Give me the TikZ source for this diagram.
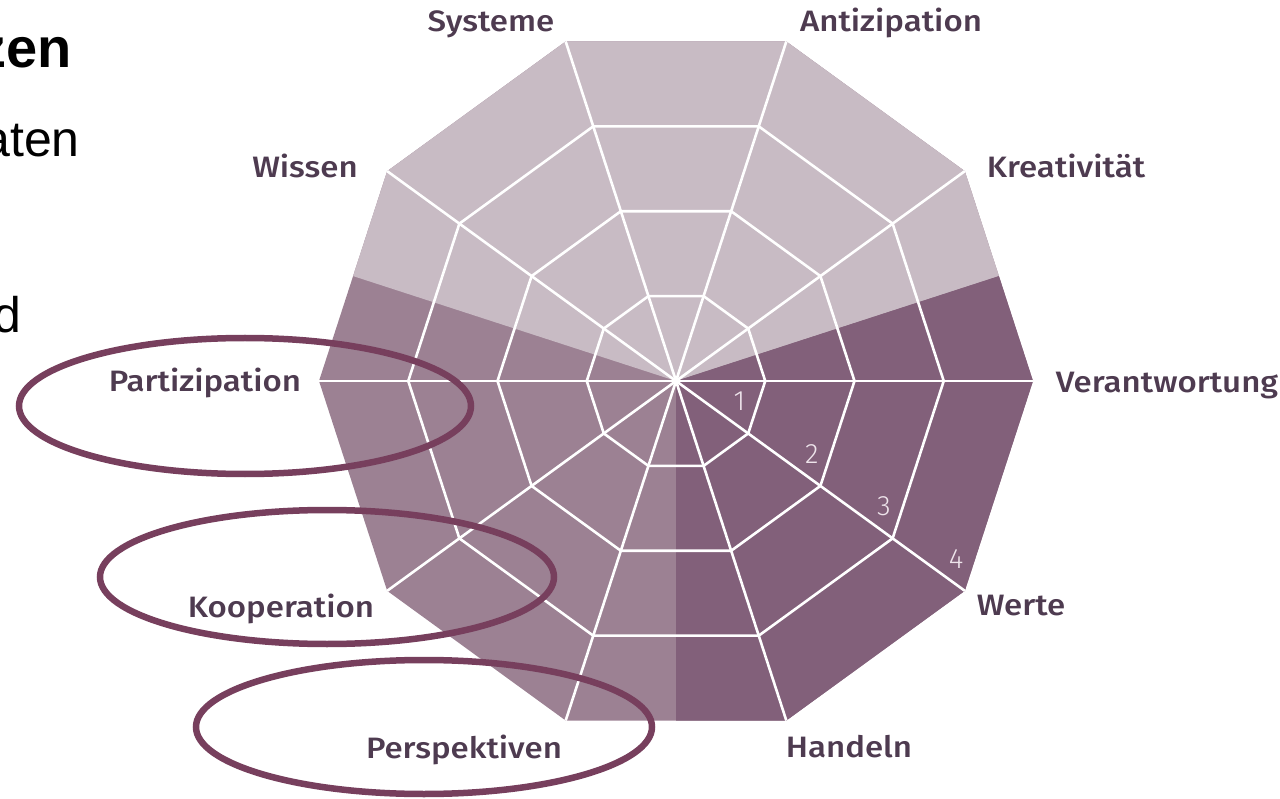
\documentclass[tikz,border=0pt]{standalone}
\usepackage{fontspec}
\setmainfont{Liberation Sans}
\newfontfamily\chartfont{Fira Sans Medium}[FakeStretch=1.12]
\newfontfamily\numfont{Fira Sans Light}
\usetikzlibrary{calc}

\definecolor{lightpart}{HTML}{C8BBC4}
\definecolor{midpart}{HTML}{9C8193}
\definecolor{darkpart}{HTML}{82607A}
\definecolor{labelcol}{HTML}{4E3B50}
\definecolor{loopcol}{HTML}{773F5D}
\definecolor{numcol}{HTML}{EEE4EB}

\begin{document}
\begin{tikzpicture}[x=1pt,y=-1pt,
    dim/.style={font=\chartfont\fontsize{29.5}{29.5}\selectfont,text=labelcol,inner sep=0pt,anchor=base},
    num/.style={font=\numfont\fontsize{28}{28}\selectfont,text=numcol,inner sep=0pt},
    slide/.style={font=\fontsize{50}{50}\selectfont,anchor=base east,inner sep=0pt},
    hilite/.style={draw=loopcol,line width=6.5pt}]

    \def\R{357}	 %radius of outer ring
    \def\m{4}	 %number of rings
    \def\rw{2.6} %width of web lines

    \useasboundingbox (0,0) rectangle (1280,799);
    \clip (0,0) rectangle (1280,799);

    %SLIDE TEXT (cut off at the left)
    \node[slide,font=\bfseries\fontsize{56}{56}\selectfont] (head) at (72,68) {zen};
    \node[slide] (line1) at (80,157) {aten};
    \node[slide] (line2) at (22,333) {d};

    %WEB
    \begin{scope}[shift={(676,381)},yscale=-1]
        \fill[midpart] (0:\R) \foreach \a in {36,72,...,324}{ -- (\a:\R)} -- cycle;
        \fill[lightpart] (0,0) -- (18:{\R*cos(18)}) -- (36:\R) -- (72:\R) -- (108:\R) -- (144:\R) -- (162:{\R*cos(18)}) -- cycle;
        \fill[darkpart] (0,0) -- (270:{\R*cos(18)}) -- (288:\R) -- (324:\R) -- (360:\R) -- (378:{\R*cos(18)}) -- cycle;
        %rings 1..3 (ring 4 is the border)
        \foreach \k in {1,...,3}{
            \draw[white,line width=\rw,line join=miter] (0:{\k*\R/\m}) \foreach \a in {36,72,...,324}{ -- (\a:{\k*\R/\m})} -- cycle;
        } %end of ring loop
        \foreach \a in {0,36,...,324}{
            \draw[white,line width=\rw] (0,0) -- (\a:\R);
        } %end of spoke loop
        %scale along the Werte spoke
        \foreach \k in {1,...,\m}{
            \node[num] (n\k) at ($(-36:{\k*\R/\m-26})+(54:21)$) {\k};
        }
    \end{scope}

    %LABELS
    \node[dim] (sys)  at (491,32)  {Systeme};
    \node[dim] (anti) at (891,32)  {Antizipation};
    \node[dim] (krea) at (1066,178) {Kreativität};
    \node[dim] (vera) at (1167,393) {Verantwortung};
    \node[dim] (wert) at (1021,615) {Werte};
    \node[dim] (hand) at (849,757) {Handeln};
    \node[dim] (pers) at (464,758) {Perspektiven};
    \node[dim] (koop) at (281,617) {Kooperation};
    \node[dim] (part) at (205,392) {Partizipation};
    \node[dim] (wiss) at (305,178) {Wissen};

    %HIGHLIGHTS
    \draw[hilite] (245,406) ellipse [x radius=226, y radius=68];
    \draw[hilite] (327,577) ellipse [x radius=227, y radius=67];
    \draw[hilite] (424,727) ellipse [x radius=228, y radius=67];
\end{tikzpicture}
\end{document}
